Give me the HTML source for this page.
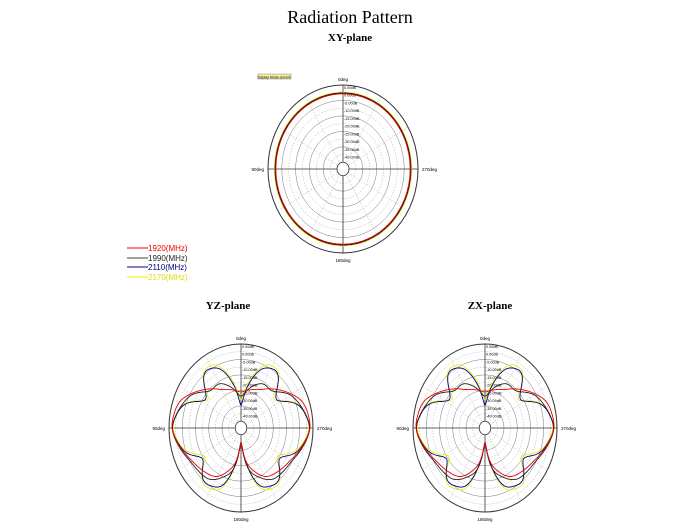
<!DOCTYPE html>
<html><head><meta charset="utf-8"><style>
body{margin:0;background:#fff;width:700px;height:530px;overflow:hidden}
svg{display:block}
text{font-family:"Liberation Sans",sans-serif}
</style></head><body>
<svg id="s" width="700" height="530" viewBox="0 0 700 530" xmlns="http://www.w3.org/2000/svg">
<text x="350" y="23" text-anchor="middle" style="font-family:'Liberation Serif',serif;font-size:18px">Radiation Pattern</text>
<text x="350" y="41" text-anchor="middle" style="font-family:'Liberation Serif',serif;font-size:11px;font-weight:bold">XY-plane</text>
<text x="228" y="309" text-anchor="middle" style="font-family:'Liberation Serif',serif;font-size:11px;font-weight:bold">YZ-plane</text>
<text x="490" y="309" text-anchor="middle" style="font-family:'Liberation Serif',serif;font-size:11px;font-weight:bold">ZX-plane</text>
<rect x="258" y="74" width="33" height="5" fill="#f3ec9a" stroke="#888" stroke-width="0.5"/>
<text x="274" y="78.5" text-anchor="middle" font-size="3.5">Display Mode current</text>
<g font-size="8">
<line x1="127" y1="248" x2="148" y2="248" stroke="#e00" /><text x="148" y="251" fill="#e00">1920(MHz)</text>
<line x1="127" y1="258" x2="148" y2="258" stroke="#444" /><text x="148" y="261" fill="#222">1990(MHz)</text>
<line x1="127" y1="267" x2="148" y2="267" stroke="#008" /><text x="148" y="270" fill="#008">2110(MHz)</text>
<line x1="127" y1="277" x2="148" y2="277" stroke="#ee0" /><text x="148" y="280" fill="#dd0">2170(MHz)</text>
</g>
</svg>
<script>
var s=document.getElementById('s'),NS='http://www.w3.org/2000/svg';
function el(t,a,p){var e=document.createElementNS(NS,t);for(var k in a)e.setAttribute(k,a[k]);(p||s).appendChild(e);return e;}
function polar(cx,cy,rx,ry){
 for(var i=1;i<=10;i++){var f=0.08+0.92*i/10;
  el('ellipse',{cx:cx,cy:cy,rx:rx*f,ry:ry*f,fill:'none',stroke:i==10?'#333':(i%2?'#aaa':'#777'),'stroke-width':i==10?1:0.5,'stroke-dasharray':i%2?'1.5,1.5':''});}
 for(var a=0;a<180;a+=30){var r=a*Math.PI/180;
  el('line',{x1:cx-rx*Math.sin(r),y1:cy-ry*Math.cos(r),x2:cx+rx*Math.sin(r),y2:cy+ry*Math.cos(r),stroke:a%90?'#aaa':'#333','stroke-width':a%90?0.5:0.8,'stroke-dasharray':a%90?'1.5,1.5':''});}
 el('ellipse',{cx:cx,cy:cy,rx:rx*0.08,ry:ry*0.08,fill:'#fff',stroke:'#333','stroke-width':0.8});
 var L=[['0deg',cx,cy-ry-4,'middle'],['180deg',cx,cy+ry+9,'middle'],['90deg',cx-rx-4,cy+2,'end'],['270deg',cx+rx+4,cy+2,'start']];
 L.forEach(function(l){var t=el('text',{x:l[1],y:l[2],'text-anchor':l[3],'font-size':4.5});t.textContent=l[0];});
 for(var i=0;i<10;i++){var t=el('text',{x:cx+1,y:cy-ry+4+i*(ry*0.92/10),'font-size':3.8});t.textContent=(i==0?'0.00':(-i*5+5)+'.00')+'dB';}
}
function lin(pts,d){for(var i=0;i<pts.length-1;i++){if(d>=pts[i][0]&&d<=pts[i+1][0]){var t=(d-pts[i][0])/(pts[i+1][0]-pts[i][0]);return pts[i][1]+(pts[i+1][1]-pts[i][1])*t;}}return pts[pts.length-1][1];}
function curve(cx,cy,rx,ry,pts,col){
 var v=[];for(var a=0;a<360;a++){var aa=a<=180?a:360-a;v.push(lin(pts,aa));}
 for(var pass=0;pass<2;pass++){var w=[];for(var a=0;a<360;a++){var sm=0;for(var k=-4;k<=4;k++)sm+=v[(a+k+360)%360];w.push(sm/9);}v=w;}
 var d='';for(var a=0;a<360;a++){var r=v[a];var rad=a*Math.PI/180;var x=cx+rx*r*Math.sin(rad),y=cy-ry*r*Math.cos(rad);d+=(a?'L':'M')+x.toFixed(1)+','+y.toFixed(1);}
 el('path',{d:d+'Z',fill:'none',stroke:col,'stroke-width':0.9});}
polar(343,169,75,84);
[['#ee0',0.915],['#008',0.905],['#222',0.9],['#e00',0.895]].forEach(function(c){curve(343,169,75,84,[[0,c[1]],[180,c[1]]],c[0]);});
var B=[[0,0.15],[6,0.4],[22,0.78],[38,0.86],[50,0.62],[57,0.56],[70,0.85],[90,0.97],[112,0.82],[124,0.6],[140,0.84],[160,0.76],[174,0.3],[180,0.05]];
var Y=[[0,0.25],[8,0.5],[25,0.86],[40,0.86],[53,0.5],[70,0.86],[90,0.96],[110,0.82],[124,0.55],[140,0.87],[160,0.8],[174,0.3],[180,0.05]];
var R=[[0,0.42],[30,0.52],[50,0.7],[70,0.92],[90,0.97],[120,0.78],[150,0.68],[172,0.4],[180,0.05]];
var K=[[0,0.35],[15,0.5],[30,0.62],[45,0.6],[60,0.8],[90,0.97],[120,0.8],[145,0.76],[170,0.5],[180,0.05]];
[[241,428],[485,428]].forEach(function(c){polar(c[0],c[1],72,84);
 curve(c[0],c[1],72,84,Y,'#ee0');curve(c[0],c[1],72,84,B,'#008');curve(c[0],c[1],72,84,K,'#222');curve(c[0],c[1],72,84,R,'#e00');});
</script>
</body></html>
